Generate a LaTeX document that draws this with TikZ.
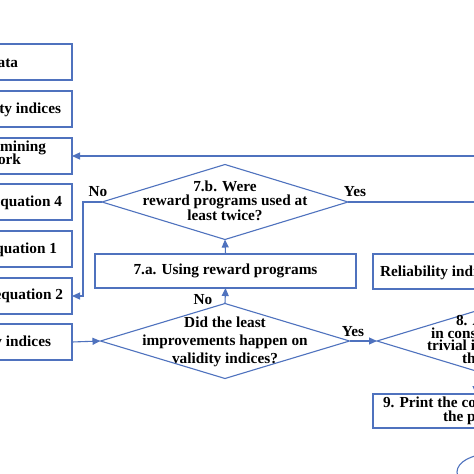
\documentclass[tikz,border=0pt]{standalone}
\usepackage{fontspec}
\setmainfont{Liberation Serif}
\usetikzlibrary{shapes.geometric,arrows.meta}
\definecolor{fc}{RGB}{79,114,190}
\begin{document}
\begin{tikzpicture}[x=1pt,y=-1pt,
  box/.style={draw=fc, line width=1.1pt, inner sep=0pt, outer sep=0pt},
  dia/.style={draw=fc, line width=1.1pt, diamond, inner sep=0pt, outer sep=0pt},
  txt/.style={font=\fontsize{15.3}{18}\selectfont\bfseries, inner sep=0pt, outer sep=0pt, text=black},
  arr/.style={draw=fc, line width=1.1pt, -{Triangle[length=8pt,width=7pt]}},
  ln/.style={draw=fc, line width=1.1pt}]
\useasboundingbox (0,0) rectangle (474,474);
\fill[white] (0,0) rectangle (474,474);

% left column boxes
\node[box, minimum width=90pt, minimum height=36pt, anchor=east] (b1) at (72,62) {};
\node[box, minimum width=90pt, minimum height=36pt, anchor=east] (b2) at (72,109) {};
\node[box, minimum width=90pt, minimum height=36pt, anchor=east] (b3) at (72,156) {};
\node[box, minimum width=90pt, minimum height=36pt, anchor=east] (b4) at (72,202) {};
\node[box, minimum width=90pt, minimum height=36pt, anchor=east] (b5) at (72,249) {};
\node[box, minimum width=90pt, minimum height=36pt, anchor=east] (b6) at (72,296) {};
\node[box, minimum width=90pt, minimum height=36pt, anchor=east] (b7) at (72,342) {};

\node[txt, anchor=base east] (t1) at (18,67) {ata};
\node[txt, anchor=base east] (t2) at (61,113) {ty indices};
\node[txt, anchor=base east] (t3a) at (46,151) {mining};
\node[txt, anchor=base east] (t3b) at (21,164) {ork};
\node[txt, anchor=base east] (t4) at (62,206) {equation 4};
\node[txt, anchor=base east] (t5) at (57,253) {quation 1};
\node[txt, anchor=base east] (t6) at (63,299) {equation 2};
\node[txt, anchor=base east] (t7) at (51,346) {y indices};

% diamonds
\node[dia, minimum width=246pt, minimum height=75pt] (d7b) at (225,202) {};
\node[txt, align=center, font=\fontsize{15.3}{13.5}\selectfont\bfseries] (t7b) at (225,201)
  {7.b. Were\\reward programs used at\\least twice?};

\node[dia, minimum width=249pt, minimum height=75pt] (d6) at (225,341) {};
\node[txt, align=center] (t6d) at (225,342)
  {Did the least\\improvements happen on\\validity indices?};

\node[dia, minimum width=198pt, minimum height=60pt] (d8) at (476,341) {};
\node[txt, anchor=base west] (t8a) at (456,325) {8. A};
\node[txt, anchor=base west] (t8b) at (431,338) {in cons};
\node[txt, anchor=base west] (t8c) at (427,350) {trivial i};
\node[txt, anchor=base west] (t8d) at (462,363) {th};

% middle boxes
\node[box, txt, draw=fc, minimum width=261pt, minimum height=34pt] (b7a) at (225.5,271) {7.a. Using reward programs};
\node[box, minimum width=140pt, minimum height=35pt, anchor=west] (brel) at (373,271.5) {};
\node[txt, anchor=base west] (trel) at (380,276) {Reliability indices};

\node[box, minimum width=206pt, minimum height=34pt] (b9) at (476,411) {};
\node[txt, anchor=base west] (t9a) at (383,407) {9. Print the co};
\node[txt, anchor=base west] (t9b) at (443,421) {the p};

\node[draw=fc, line width=1.1pt, ellipse, minimum width=66pt, minimum height=36pt, inner sep=0pt] (end) at (490,472) {};

% connectors
\coordinate (r1) at (478,156);
\coordinate (r2) at (478,202);
\draw[arr] (r1) -- (b3.east);
\draw[ln] (d7b.east) -- (r2);
\draw[arr] (d7b.west) -- ++(-19,0) |- (b6.east);
\draw[arr] (b7a.north) -- (d7b.south);
\draw[arr] (d6.north) -- (b7a.south);
\draw[arr] (b7.east) -- (d6.west);
\draw[arr] (d6.east) -- (d8.west);
\draw[arr] (d8.south) -- (b9.north);

% labels
\node[txt] (lno1) at (98,192) {No};
\node[txt] (lyes1) at (355,192) {Yes};
\node[txt] (lno2) at (203,300) {No};
\node[txt] (lyes2) at (353,332) {Yes};
\end{tikzpicture}
\end{document}
